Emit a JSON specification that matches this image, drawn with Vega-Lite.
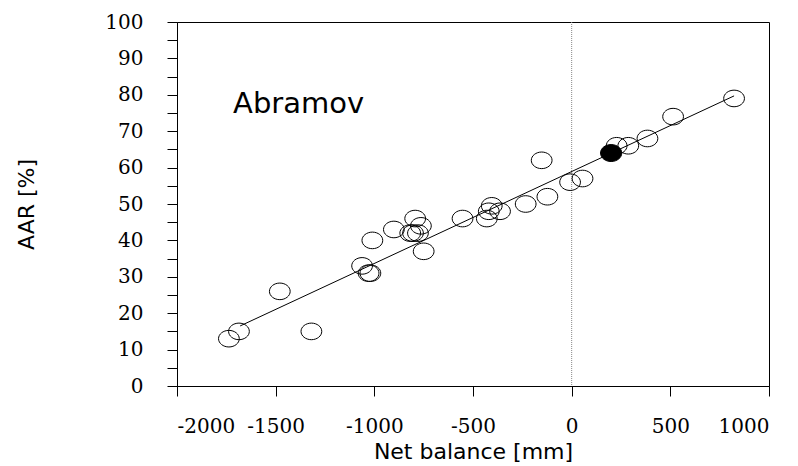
{
  "$schema": "https://vega.github.io/schema/vega-lite/v6.json",
  "width": 592,
  "height": 364,
  "autosize": "none",
  "padding": {"left": 177, "top": 22, "right": 29, "bottom": 80},
  "background": "white",
  "config": {
    "view": {"stroke": "black", "strokeWidth": 1},
    "axis": {
      "grid": false,
      "domainColor": "black",
      "tickColor": "black",
      "labelColor": "black",
      "titleColor": "black",
      "labelFont": "DejaVu Serif",
      "labelFontSize": 20,
      "labelOverlap": false,
      "titleFont": "DejaVu Sans",
      "titleFontSize": 22,
      "titleFontWeight": "normal"
    }
  },
  "datasets": {
    "pts": [
      {"x": -1737, "y": 13},
      {"x": -1686, "y": 15},
      {"x": -1479, "y": 26},
      {"x": -1319, "y": 15},
      {"x": -1062, "y": 33},
      {"x": -1029, "y": 31},
      {"x": -1020, "y": 31},
      {"x": -1010, "y": 40},
      {"x": -901, "y": 43},
      {"x": -793, "y": 46},
      {"x": -818, "y": 42},
      {"x": -804, "y": 42},
      {"x": -764, "y": 44},
      {"x": -779, "y": 42},
      {"x": -750, "y": 37},
      {"x": -553, "y": 46},
      {"x": -430, "y": 46},
      {"x": -420, "y": 48},
      {"x": -405, "y": 49.5},
      {"x": -363, "y": 48},
      {"x": -233, "y": 50},
      {"x": -123, "y": 52},
      {"x": -152, "y": 62},
      {"x": -8, "y": 56},
      {"x": 55, "y": 57},
      {"x": 228, "y": 66},
      {"x": 287, "y": 66},
      {"x": 384, "y": 68},
      {"x": 514, "y": 74},
      {"x": 823, "y": 79}
    ],
    "cur": [{"x": 200, "y": 64}],
    "fit": [{"x": -1680, "y": 16.5}, {"x": 823, "y": 79.7}],
    "zero": [{"x": 0}],
    "lab": [{"x": -1716, "y": 75, "t": "Abramov"}]
  },
  "layer": [
    {
      "data": {"name": "zero"},
      "mark": {"type": "rule", "color": "#888888", "strokeDash": [1, 1], "strokeWidth": 1},
      "encoding": {"x": {"field": "x", "type": "quantitative"}}
    },
    {
      "data": {"name": "fit"},
      "mark": {"type": "line", "color": "black", "strokeWidth": 1},
      "encoding": {
        "x": {"field": "x", "type": "quantitative"},
        "y": {"field": "y", "type": "quantitative"}
      }
    },
    {
      "data": {"name": "pts"},
      "mark": {"type": "point", "shape": "M -1 0 A 1 0.8 0 1 0 1 0 A 1 0.8 0 1 0 -1 0 Z", "size": 430, "filled": false, "stroke": "black", "strokeWidth": 1, "opacity": 1},
      "encoding": {
        "x": {
          "field": "x", "type": "quantitative",
          "scale": {"domain": [-2000, 1000], "nice": false, "zero": false},
          "axis": {"values": [-2000, -1500, -1000, -500, 0, 500, 1000], "labelExpr": "'' + datum.value", "labelOverlap": false, "tickCount": 20, "tickSize": 10, "labelPadding": 20, "title": "Net balance [mm]", "titlePadding": 5}
        },
        "y": {
          "field": "y", "type": "quantitative",
          "scale": {"domain": [0, 100], "nice": false},
          "axis": {
            "values": [0, 5, 10, 15, 20, 25, 30, 35, 40, 45, 50, 55, 60, 65, 70, 75, 80, 85, 90, 95, 100],
            "tickCount": 50,
            "labelExpr": "datum.value % 10 == 0 ? '' + datum.value : ''",
            "labelOverlap": false,
            "labelBound": false,
            "tickSize": 10, "labelPadding": 24, "title": "AAR [%]", "titlePadding": 66
          }
        }
      }
    },
    {
      "data": {"name": "cur"},
      "mark": {"type": "point", "shape": "M -1 0 A 1 0.8 0 1 0 1 0 A 1 0.8 0 1 0 -1 0 Z", "size": 450, "filled": true, "fill": "black", "stroke": "black", "strokeWidth": 1, "opacity": 1},
      "encoding": {
        "x": {"field": "x", "type": "quantitative"},
        "y": {"field": "y", "type": "quantitative"}
      }
    },
    {
      "data": {"name": "lab"},
      "mark": {"type": "text", "align": "left", "baseline": "alphabetic", "font": "DejaVu Sans", "fontSize": 29, "color": "black"},
      "encoding": {
        "x": {"field": "x", "type": "quantitative"},
        "y": {"field": "y", "type": "quantitative"},
        "text": {"field": "t"}
      }
    }
  ]
}
